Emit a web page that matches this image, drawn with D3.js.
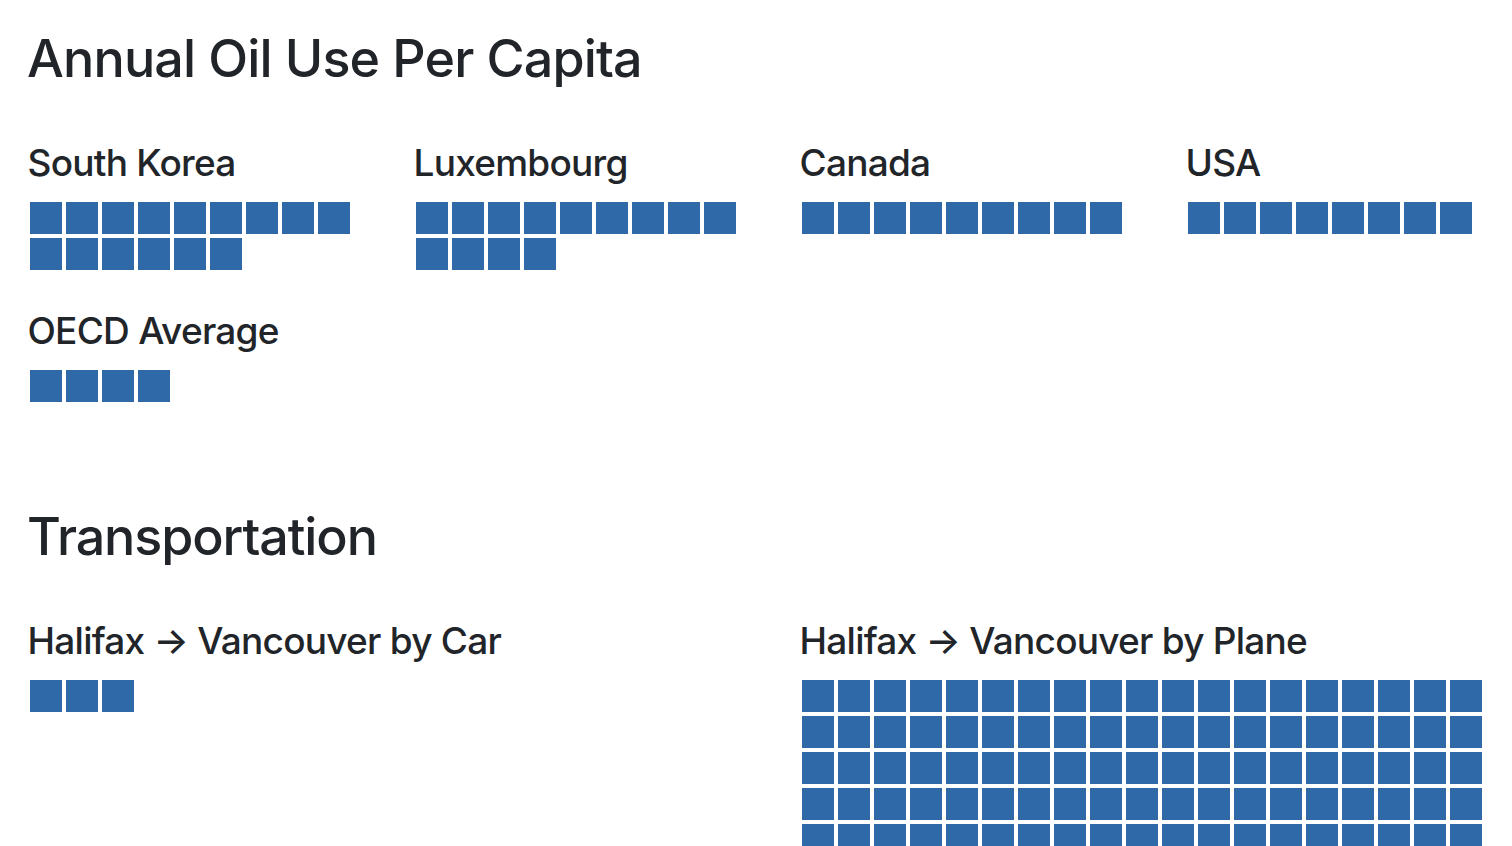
<!DOCTYPE html>
<html>
<head>
<meta charset="utf-8">
<script src="https://cdn.jsdelivr.net/npm/d3@7"></script>
<style>
  html, body { margin: 0; padding: 0; background: #fff; overflow: hidden; }
  svg { display: block; }
  text { font-family: Inter, "Noto Sans", sans-serif; fill: #212529; }
</style>
</head>
<body>
<svg id="chart" width="1512" height="846"></svg>
<script>
// ---- data ----
const sectionTitles = ["Annual Oil Use Per Capita", "Transportation"];
const oilLabels = ["South Korea", "Luxembourg", "Canada", "USA", "OECD Average"];
const oilUnits = [15, 13, 9, 8, 4];
const tripLabels = ["Halifax \u2192 Vancouver by Car", "Halifax \u2192 Vancouver by Plane"];
const tripUnits = [3, 100];

// ---- layout ----
const svg = d3.select("#chart");
const color = "#3069a8";
const cell = 36, sq = 32;
const left = 28;

const sections = [
  { title: sectionTitles[0], cols: 4, perRow: [9, 9, 9, 9],
    groups: oilLabels.map((l, i) => ({ label: l, value: oilUnits[i] })) },
  { title: sectionTitles[1], cols: 2, perRow: [9, 19],
    groups: tripLabels.map((l, i) => ({ label: l, value: tripUnits[i] })) }
];

const colPitch = 386;
let y = 77;
sections.forEach((sec, si) => {
  if (si > 0) y += 153;
  svg.append("text").attr("x", left - 1).attr("y", y)
    .attr("font-size", 52).attr("font-weight", 500)
    .attr("letter-spacing", si === 0 ? -0.85 : -1.1)
    .text(sec.title);
  const colScale = d3.scaleLinear().domain([0, 4]).range([left, left + colPitch * 4]);
  let baseline = y + 98.5;
  const rows = d3.groups(sec.groups.map((g, i) => ({ ...g, i })), d => Math.floor(d.i / sec.cols));
  rows.forEach(([ri, gs]) => {
    let maxRows = 1;
    const top = Math.round(baseline + 26.5);
    gs.forEach(g => {
      const c = g.i % sec.cols;
      const per = sec.perRow[c];
      const x0 = colScale(c * (4 / sec.cols));
      const grp = svg.append("g");
      grp.append("text").attr("x", x0 - 0.5).attr("y", baseline)
        .attr("font-size", 37).attr("font-weight", 500).attr("letter-spacing", -0.75)
        .text(g.label);
      const units = d3.range(g.value);
      const nRows = Math.ceil(g.value / per);
      maxRows = Math.max(maxRows, nRows);
      const xs = d3.scaleLinear().domain([0, 1]).range([x0 + 2, x0 + 2 + cell]);
      const ys = d3.scaleLinear().domain([0, 1]).range([top, top + cell]);
      grp.selectAll("rect").data(units).join("rect")
        .attr("x", d => Math.round(xs(d % per)))
        .attr("y", d => ys(Math.floor(d / per)))
        .attr("width", sq).attr("height", sq)
        .attr("fill", color);
    });
    const rowEnd = top + maxRows * cell - 4;
    y = rowEnd;
    baseline = rowEnd + 73.5;
  });
});
</script>
</body>
</html>
